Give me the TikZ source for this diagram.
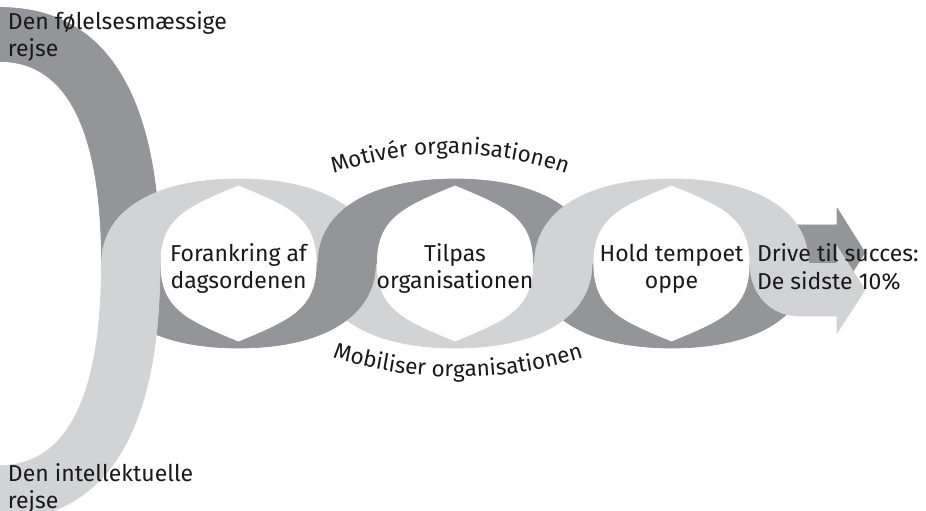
\documentclass[tikz,border=0pt]{standalone}
\usepackage{fontspec}
\setmainfont{Fira Sans}
\usetikzlibrary{decorations.text}

\definecolor{ribbonDark}{RGB}{147,149,152}
\definecolor{ribbonLight}{RGB}{209,211,212}
\definecolor{inkText}{RGB}{26,24,25}

% geometry of the three loops (units: pt, y up)
\def\CY{247.5}   % centre line
\def\OA{137}     % outer half width
\def\OB{84.5}    % outer half height
\def\KK{0.62}    % handle factor of the outer curve
\def\IA{78.5}    % inner half width
\def\IB{78.5}    % inner half height
\def\IT{52}      % inner tip handle, horizontal
\def\IU{21.5}    % inner tip handle, vertical
\def\IS{46}      % inner side handle
\def\KJ{0.66}    % handle factor of the two journey bands
\def\CA{238.5}
\def\CB{455}
\def\CC{671.5}

\tikzset{
  ribbon/.style={fill=#1, draw=#1, line width=0.7pt, line join=round},
  lbl/.style={inner sep=0pt, outer sep=0pt, font=\fontsize{23}{27}\selectfont, text=inkText},
  lblL/.style={lbl, anchor=base west},
  lblC/.style={lbl, anchor=base},
}

% one quarter of a loop: centre x, horizontal sign, vertical sign, colour
\newcommand{\ringquarter}[4]{%
  \filldraw[ribbon=#4] ({#1},{\CY+(#3)*\OB})
    .. controls ({#1+(#2)*\KK*\OA},{\CY+(#3)*\OB}) and ({#1+(#2)*\OA},{\CY+(#3)*\KK*\OB})
    .. ({#1+(#2)*\OA},{\CY})
    -- ({#1+(#2)*\IA},{\CY})
    .. controls ({#1+(#2)*\IA},{\CY+(#3)*\IS}) and ({#1+(#2)*\IT},{\CY+(#3)*(\IB-\IU)})
    .. ({#1},{\CY+(#3)*\IB}) -- cycle;}

\newcommand{\arcfont}{\fontsize{22.5}{26}\selectfont\color{inkText}}

\begin{document}
\begin{tikzpicture}[x=1pt,y=1pt]
\useasboundingbox (0,0) rectangle (926,511);
\clip (0,0) rectangle (926,511);

% emotional journey (dark) coming in from the top left
\filldraw[ribbon=ribbonDark] (0,{\CY+256}) .. controls ({\KJ*160},{\CY+256}) and (160,{\CY+\KJ*256}) .. (160,\CY)
  -- (101.5,\CY) .. controls (101.5,{\CY+\KJ*202}) and ({\KJ*101.5},{\CY+202}) .. (0,{\CY+202}) -- cycle;
\ringquarter{\CA}{-1}{-1}{ribbonDark}

% intellectual journey (light) coming in from the bottom left
\filldraw[ribbon=ribbonLight] (0,{\CY-256}) .. controls ({\KJ*160},{\CY-256}) and (160,{\CY-\KJ*256}) .. (160,\CY)
  -- (101.5,\CY) .. controls (101.5,{\CY-\KJ*202}) and ({\KJ*101.5},{\CY-202}) .. (0,{\CY-202}) -- cycle;
\ringquarter{\CA}{-1}{1}{ribbonLight}

% first crossing: light behind, dark in front
\ringquarter{\CA}{1}{1}{ribbonLight}
\ringquarter{\CB}{-1}{-1}{ribbonLight}
\ringquarter{\CA}{1}{-1}{ribbonDark}
\ringquarter{\CB}{-1}{1}{ribbonDark}

% second crossing: dark behind, light in front
\ringquarter{\CB}{1}{1}{ribbonDark}
\ringquarter{\CC}{-1}{-1}{ribbonDark}
\ringquarter{\CB}{1}{-1}{ribbonLight}
\ringquarter{\CC}{-1}{1}{ribbonLight}

% final arrows: dark behind, light in front
\filldraw[ribbon=ribbonDark] (785,286) -- (837,286) -- (837,303) -- (865,258.5) -- (837,214) -- (837,231) -- (785,231) -- cycle;
\ringquarter{\CC}{1}{-1}{ribbonDark}
\ringquarter{\CC}{1}{1}{ribbonLight}
\filldraw[ribbon=ribbonLight] (808.5,\CY) -- (750,\CY) .. controls (750,{\CY-30}) and (770,{\CY-52.5}) .. (800,{\CY-52.5})
  -- (837,{\CY-52.5}) -- (837,{\CY-69.5}) -- (865,{\CY-26.25}) -- (837,{\CY+17}) -- (837,\CY) -- cycle;

% labels
\node[lblL] (emoA) at (8,481) {Den følelsesmæssige};
\node[lblL] (emoB) at (8,454) {rejse};
\node[lblL] (intA) at (8,29) {Den intellektuelle};
\node[lblL] (intB) at (8,2.5) {rejse};

\node[lblC] (oneA) at (\CA,249) {Forankring af};
\node[lblC] (oneB) at (\CA,222) {dagsordenen};
\node[lblC] (twoA) at (\CB,249) {Tilpas};
\node[lblC] (twoB) at (\CB,222) {organisationen};
\node[lblC] (thrA) at (\CC,249) {Hold tempoet};
\node[lblC] (thrB) at (\CC,222) {oppe};
\node[lblL] (endA) at (757,249) {Drive til succes:};
\node[lblL] (endB) at (757,221) {De sidste 10\%};

% curved labels above and below the middle loop
\path[decorate, decoration={text along path, text align=center,
    text={|\arcfont|Motivér organisationen}}]
  (450,7) ++(115:350) arc[start angle=115, end angle=65, radius=350];
\path[decorate, decoration={text along path, text align=center,
    text={|\arcfont|Mobiliser organisationen}}]
  (458,554) ++(243:420) arc[start angle=243, end angle=297, radius=420];
\end{tikzpicture}
\end{document}
